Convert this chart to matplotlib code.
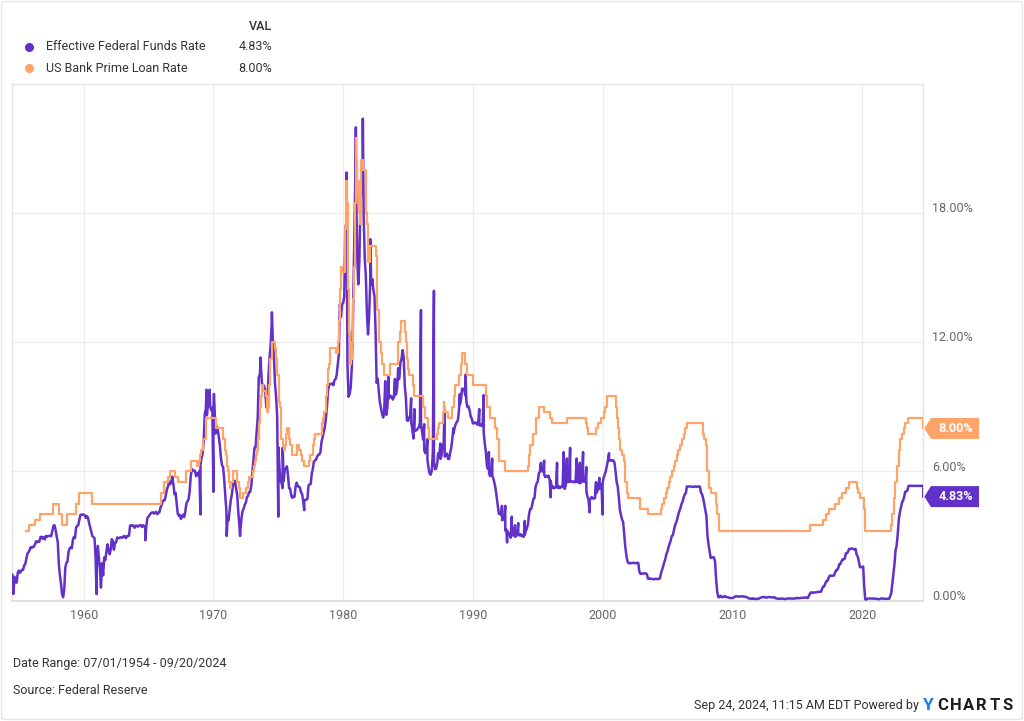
import numpy as np
import pandas as pd
import matplotlib
matplotlib.use("Agg")
import matplotlib.pyplot as plt
from matplotlib.patches import Polygon, FancyBboxPatch
from matplotlib.lines import Line2D

# ---------------- data ----------------
series_names = ["Effective Federal Funds Rate", "US Bank Prime Loan Rate"]
last_values = ["4.83%", "8.00%"]

# Effective Federal Funds Rate, monthly (first of month), %
ff_1950s = [1.20, 0.30, 1.10, 0.85, 0.83, 1.28,
            1.39, 1.29, 1.35, 1.43, 1.43, 1.64, 1.68, 1.96, 2.18, 2.24, 2.35, 2.48,
            2.45, 2.50, 2.50, 2.62, 2.75, 2.71, 2.75, 2.73, 2.95, 2.96, 2.88, 2.94,
            2.84, 3.00, 2.96, 3.00, 3.00, 3.00, 2.99, 3.24, 3.47, 3.50, 3.28, 2.98,
            2.72, 1.67, 1.20, 0.80, 0.30, 0.15, 0.50, 1.53, 1.76, 1.80, 2.27, 2.42,
            2.48, 2.43, 2.80, 2.96, 2.90, 3.39, 3.47, 3.50, 3.76, 3.98, 4.00, 3.99]
ff_1960s = [3.99, 3.97, 3.84, 3.92, 3.85, 3.60, 3.40, 3.20, 3.00, 2.95, 2.90, 2.00,
            1.45, 2.54, 2.02, 1.49, 0.60, 1.73, 1.17, 2.00, 1.88, 2.26, 2.61, 2.33,
            2.15, 2.37, 2.85, 2.78, 2.36, 2.68, 2.71, 2.93, 2.90, 2.90, 2.94, 2.93,
            2.92, 3.00, 2.98, 2.90, 3.00, 2.99, 3.02, 3.49, 3.48, 3.50, 3.48, 3.38,
            3.48, 3.48, 3.43, 3.47, 3.50, 3.50, 3.42, 3.50, 3.45, 3.36, 3.52, 3.85,
            3.90, 3.98, 4.04, 4.09, 4.10, 4.04, 4.09, 4.12, 4.01, 4.08, 4.10, 4.32,
            4.42, 4.60, 4.65, 4.67, 4.90, 5.17, 5.30, 5.53, 5.40, 5.53, 5.76, 5.40,
            4.94, 5.00, 4.53, 4.05, 3.94, 3.98, 3.79, 3.90, 3.99, 3.88, 4.13, 4.51,
            4.61, 4.71, 5.05, 5.76, 6.11, 6.07, 6.02, 6.03, 5.78, 5.91, 5.82, 6.02,
            6.30, 6.64, 6.79, 7.41, 8.67, 8.90, 8.61, 9.19, 9.15, 9.00, 8.85, 8.97]
ff_1970s = [8.98, 8.98, 7.76, 8.10, 7.95, 7.61, 7.21, 6.61, 6.29, 6.20, 5.60, 4.90,
            4.14, 3.72, 3.71, 4.16, 4.63, 4.91, 5.31, 5.57, 5.55, 5.20, 4.91, 4.14,
            3.50, 3.29, 3.83, 4.17, 4.27, 4.46, 4.55, 4.80, 4.87, 5.04, 5.06, 5.33,
            5.94, 6.58, 7.09, 7.12, 7.84, 8.49, 10.40, 10.50, 10.78, 10.01, 10.03, 9.95,
            9.65, 8.97, 9.35, 10.51, 11.31, 11.93, 12.92, 12.01, 11.34, 10.06, 9.45, 8.53,
            7.13, 6.24, 5.54, 5.49, 5.22, 5.55, 6.10, 6.14, 6.24, 5.82, 5.22, 5.20,
            4.87, 4.77, 4.84, 4.82, 5.29, 5.48, 5.31, 5.29, 5.25, 5.03, 4.95, 4.65,
            4.61, 4.68, 4.69, 4.73, 5.35, 5.39, 5.42, 5.90, 6.14, 6.47, 6.51, 6.56,
            6.70, 6.78, 6.79, 6.89, 7.36, 7.60, 7.81, 8.04, 8.45, 8.96, 9.76, 10.03,
            10.07, 10.06, 10.09, 10.01, 10.24, 10.29, 10.47, 10.94, 11.43, 13.77, 13.18, 13.78]
ff_1980s = [13.82, 14.13, 17.19, 17.61, 10.98, 9.47, 9.60, 9.90, 10.87, 12.81, 15.85, 18.90,
            19.08, 15.93, 14.70, 15.72, 18.52, 19.10, 19.04, 17.82, 15.87, 15.08, 13.31, 12.37,
            13.22, 14.78, 14.68, 14.94, 14.45, 14.15, 12.59, 10.12, 10.31, 9.71, 9.20, 8.95,
            8.68, 8.51, 8.77, 8.80, 8.63, 8.98, 9.37, 9.56, 9.45, 9.48, 9.34, 9.47,
            9.56, 9.59, 9.91, 10.29, 10.32, 11.06, 11.23, 11.64, 11.30, 9.99, 9.43, 8.38,
            8.35, 8.50, 8.58, 8.27, 7.97, 7.53, 7.88, 7.90, 7.92, 7.99, 8.05, 8.27,
            8.14, 7.86, 7.48, 6.99, 6.85, 6.92, 6.56, 6.17, 5.89, 5.85, 6.04, 6.91,
            6.43, 6.10, 6.13, 6.37, 6.85, 6.73, 6.58, 6.73, 7.22, 7.29, 6.69, 6.77,
            6.83, 6.58, 6.58, 6.87, 7.09, 7.51, 7.75, 8.01, 8.19, 8.30, 8.35, 8.76,
            9.12, 9.36, 9.85, 9.84, 9.81, 9.53, 9.24, 8.99, 9.02, 8.84, 8.55, 8.45]
ff_1990s = [8.23, 8.24, 8.28, 8.26, 8.18, 8.29, 8.15, 8.13, 8.20, 8.11, 7.81, 7.31,
            6.91, 6.25, 6.12, 5.91, 5.78, 5.90, 5.82, 5.66, 5.45, 5.21, 4.81, 4.43,
            4.03, 4.06, 3.98, 3.73, 3.82, 3.76, 3.25, 3.30, 3.22, 3.10, 3.09, 2.92,
            3.02, 3.03, 3.07, 2.96, 3.00, 3.04, 3.06, 3.03, 3.09, 2.99, 3.02, 2.96,
            3.05, 3.25, 3.34, 3.56, 4.01, 4.25, 4.26, 4.47, 4.73, 4.76, 5.29, 5.45,
            5.53, 5.92, 5.98, 6.05, 6.01, 6.00, 5.85, 5.74, 5.80, 5.76, 5.80, 5.60,
            5.56, 5.22, 5.31, 5.22, 5.24, 5.27, 5.40, 5.22, 5.30, 5.24, 5.31, 5.29,
            5.25, 5.19, 5.39, 5.51, 5.50, 5.56, 5.52, 5.54, 5.54, 5.50, 5.52, 5.50,
            5.56, 5.51, 5.49, 5.45, 5.49, 5.56, 5.54, 5.55, 5.51, 5.07, 4.83, 4.68,
            4.63, 4.76, 4.81, 4.74, 4.74, 4.76, 4.99, 5.07, 5.22, 5.20, 5.42, 5.30]
ff_2000s = [5.45, 5.73, 5.85, 6.02, 6.27, 6.53, 6.54, 6.50, 6.52, 6.51, 6.51, 6.40,
            5.98, 5.49, 5.31, 4.80, 4.21, 3.97, 3.77, 3.65, 3.07, 2.49, 2.09, 1.82,
            1.73, 1.74, 1.73, 1.75, 1.75, 1.75, 1.73, 1.74, 1.75, 1.75, 1.34, 1.24,
            1.24, 1.26, 1.25, 1.26, 1.26, 1.22, 1.01, 1.03, 1.01, 1.01, 1.00, 0.98,
            1.00, 1.01, 1.00, 1.00, 1.00, 1.03, 1.26, 1.43, 1.61, 1.76, 1.93, 2.16,
            2.28, 2.50, 2.63, 2.79, 3.00, 3.04, 3.26, 3.50, 3.62, 3.78, 4.00, 4.16,
            4.29, 4.49, 4.59, 4.79, 4.94, 4.99, 5.30, 5.30, 5.30, 5.30, 5.30, 5.28,
            5.28, 5.30, 5.30, 5.28, 5.30, 5.30, 5.30, 5.02, 4.94, 4.76, 4.49, 4.24,
            3.94, 2.98, 2.61, 2.28, 1.98, 2.00, 2.01, 2.00, 1.81, 0.97, 0.39, 0.16,
            0.15, 0.22, 0.18, 0.15, 0.18, 0.21, 0.16, 0.16, 0.15, 0.12, 0.12, 0.12]
ff_2010s = [0.11, 0.13, 0.16, 0.20, 0.20, 0.18, 0.18, 0.19, 0.19, 0.19, 0.19, 0.18,
            0.17, 0.16, 0.14, 0.10, 0.09, 0.09, 0.07, 0.10, 0.08, 0.07, 0.08, 0.07,
            0.08, 0.10, 0.13, 0.14, 0.16, 0.16, 0.16, 0.13, 0.14, 0.16, 0.16, 0.16,
            0.14, 0.15, 0.14, 0.15, 0.11, 0.09, 0.09, 0.08, 0.08, 0.09, 0.08, 0.09,
            0.07, 0.07, 0.08, 0.09, 0.09, 0.10, 0.09, 0.09, 0.09, 0.09, 0.09, 0.12,
            0.11, 0.11, 0.11, 0.12, 0.12, 0.13, 0.13, 0.14, 0.14, 0.12, 0.12, 0.24,
            0.34, 0.38, 0.36, 0.37, 0.37, 0.38, 0.39, 0.40, 0.40, 0.40, 0.41, 0.54,
            0.65, 0.66, 0.79, 0.90, 0.91, 1.04, 1.15, 1.16, 1.15, 1.15, 1.16, 1.30,
            1.41, 1.42, 1.51, 1.69, 1.70, 1.82, 1.91, 1.91, 1.95, 2.19, 2.20, 2.27,
            2.40, 2.40, 2.41, 2.42, 2.39, 2.38, 2.40, 2.13, 2.04, 1.83, 1.55, 1.55]
ff_2020s = [1.55, 1.58, 0.65, 0.05, 0.05, 0.08, 0.09, 0.10, 0.09, 0.09, 0.09, 0.09,
            0.09, 0.08, 0.07, 0.07, 0.06, 0.08, 0.10, 0.09, 0.08, 0.08, 0.08, 0.08,
            0.08, 0.08, 0.20, 0.33, 0.77, 1.21, 1.68, 2.33, 2.56, 3.08, 3.78, 4.10,
            4.33, 4.57, 4.65, 4.83, 5.06, 5.08, 5.12, 5.33, 5.33, 5.33, 5.33, 5.33,
            5.33, 5.33, 5.33, 5.33, 5.33, 5.33, 5.33, 5.33, 5.33]
ff_start = "1954-07-01"

# short-lived daily/weekly extremes visible in the chart
ff_spike_dates = ["1960-12-28", "1964-10-01", "1968-12-31", "1969-06-20", "1969-09-15",
                  "1969-12-31", "1970-01-15", "1971-01-10", "1972-01-20", "1973-08-20",
                  "1974-07-05", "1974-12-31", "1975-05-05", "1976-12-31", "1980-04-05",
                  "1980-12-24", "1981-07-08", "1982-02-05",
                  "1983-03-31", "1983-06-30", "1983-12-30", "1984-03-30", "1985-03-29",
                  "1985-06-28", "1985-12-31", "1986-03-31", "1986-06-30", "1986-12-31",
                  "1987-06-30", "1987-10-20", "1988-06-30", "1988-12-30", "1989-06-10",
                  "1990-06-29", "1990-10-31", "1991-03-28", "1991-06-28", "1992-03-31",
                  "1992-06-30", "1992-08-20", "1992-12-31", "1993-03-31", "1993-06-30",
                  "1993-12-31", "1995-03-31", "1995-06-30", "1995-12-31", "1996-06-28",
                  "1996-12-31", "1997-03-31", "1997-06-30", "1997-12-31", "1998-03-31",
                  "1998-06-30", "1998-09-30", "1998-12-31", "1999-06-30", "1999-09-30",
                  "1999-12-31", "2000-06-30", "2024-09-18", "2024-09-20"]
ff_spike_values = [0.30, 2.80, 4.00, 9.80, 9.80,
                   5.05, 9.60, 3.00, 3.00, 11.30,
                   13.40, 3.90, 7.10, 4.20, 19.90,
                   22.00, 22.40, 16.80,
                   10.20, 10.40, 10.30, 10.80, 9.40,
                   8.90, 13.50, 8.20, 7.50, 14.40,
                   7.30, 8.80, 8.00, 9.60, 10.50,
                   8.90, 9.55, 6.90, 6.60, 4.40,
                   4.40, 2.70, 3.90, 3.50, 3.60,
                   3.70, 6.40, 6.50, 4.80, 6.40,
                   6.90, 6.60, 7.10, 6.60, 6.40,
                   6.90, 6.20, 4.10, 5.50, 5.70,
                   4.00, 6.85, 5.33, 4.83]

# US Bank Prime Loan Rate: change dates and new rate, %
prime_dates = ["1955-08-04", "1955-10-14", "1956-04-13", "1956-08-21", "1957-08-06",
               "1958-01-22", "1958-04-21", "1958-09-11", "1959-05-18", "1959-09-01",
               "1960-08-23", "1965-12-06", "1966-03-10", "1966-06-29", "1966-08-16",
               "1967-01-26", "1967-03-27", "1967-11-20", "1968-04-19", "1968-09-25",
               "1968-12-02", "1968-12-18", "1969-01-07", "1969-03-17", "1969-06-09",
               "1970-03-25", "1970-09-21", "1970-11-12", "1970-11-23", "1970-12-22",
               "1971-01-06", "1971-01-18", "1971-02-16", "1971-03-11", "1971-03-19",
               "1971-04-23", "1971-05-11", "1971-07-06", "1971-10-20", "1971-11-04",
               "1971-12-31", "1972-01-24", "1972-04-05", "1972-06-26", "1972-08-29",
               "1972-10-04", "1973-01-15", "1973-02-26", "1973-03-22", "1973-04-18",
               "1973-05-07", "1973-06-08", "1973-06-25", "1973-07-05", "1973-08-13",
               "1973-08-28", "1973-09-18", "1973-10-24", "1974-01-29", "1974-02-19",
               "1974-02-25", "1974-03-22", "1974-04-05", "1974-05-06", "1974-06-26",
               "1974-07-05", "1974-10-07", "1974-10-21", "1974-11-14", "1974-12-09",
               "1975-01-09", "1975-02-03", "1975-02-18", "1975-03-10", "1975-03-24",
               "1975-05-20", "1975-06-09", "1975-07-18", "1975-08-12", "1975-09-15",
               "1975-10-27", "1975-11-05", "1975-12-02", "1976-01-12", "1976-01-21",
               "1976-06-01", "1976-06-07", "1976-08-02", "1976-10-04", "1976-11-01",
               "1976-12-13", "1977-05-13", "1977-05-31", "1977-08-22", "1977-09-16",
               "1977-10-07", "1977-10-24", "1978-05-05", "1978-05-26", "1978-06-16",
               "1978-06-30", "1978-08-31", "1978-09-15", "1978-10-13", "1978-11-01",
               "1978-11-06", "1978-11-24", "1978-12-26", "1979-06-19", "1979-07-27",
               "1979-08-16", "1979-08-28", "1979-09-07", "1979-09-14", "1979-09-28",
               "1979-10-09", "1979-10-23", "1979-11-09", "1979-12-07", "1980-02-19",
               "1980-03-07", "1980-03-19", "1980-04-02", "1980-05-01", "1980-05-09",
               "1980-05-23", "1980-06-06", "1980-07-07", "1980-07-25", "1980-08-22",
               "1980-09-08", "1980-09-26", "1980-10-17", "1980-11-06", "1980-11-21",
               "1980-12-02", "1980-12-19", "1981-01-02", "1981-02-03", "1981-03-10",
               "1981-04-24", "1981-05-05", "1981-05-19", "1981-07-08", "1981-09-22",
               "1981-10-05", "1981-10-13", "1981-11-03", "1981-11-20", "1981-12-01",
               "1982-02-02", "1982-07-20", "1982-07-29", "1982-08-02", "1982-08-16",
               "1982-08-23", "1982-10-07", "1982-10-14", "1982-11-22", "1983-01-11",
               "1983-02-28", "1983-08-08", "1984-03-19", "1984-04-05", "1984-05-08",
               "1984-06-25", "1984-09-28", "1984-10-17", "1984-10-29", "1984-11-28",
               "1984-12-20", "1985-01-15", "1985-05-20", "1985-06-18", "1986-03-07",
               "1986-04-21", "1986-07-11", "1986-08-26", "1987-04-01", "1987-05-01",
               "1987-05-15", "1987-09-04", "1987-10-07", "1987-10-22", "1987-11-05",
               "1988-02-02", "1988-05-11", "1988-07-14", "1988-08-11", "1988-11-28",
               "1989-02-10", "1989-02-24", "1989-06-05", "1989-07-31", "1990-01-08",
               "1991-01-02", "1991-02-04", "1991-05-01", "1991-09-13", "1991-11-06",
               "1991-12-23", "1992-07-02", "1994-03-24", "1994-04-19", "1994-05-17",
               "1994-08-16", "1994-11-15", "1995-02-01", "1995-07-07", "1995-12-20",
               "1996-02-01", "1997-03-26", "1998-09-30", "1998-10-16", "1998-11-18",
               "1999-07-01", "1999-08-25", "1999-11-17", "2000-02-03", "2000-03-22",
               "2000-05-17", "2001-01-04", "2001-02-01", "2001-03-21", "2001-04-19",
               "2001-05-16", "2001-06-28", "2001-08-22", "2001-09-18", "2001-10-03",
               "2001-11-07", "2001-12-12", "2002-11-07", "2003-06-27", "2004-07-01",
               "2004-08-11", "2004-09-22", "2004-11-11", "2004-12-15", "2005-02-03",
               "2005-03-23", "2005-05-04", "2005-07-01", "2005-08-10", "2005-09-21",
               "2005-11-02", "2005-12-14", "2006-02-01", "2006-03-29", "2006-05-11",
               "2006-06-30", "2007-09-19", "2007-11-01", "2007-12-12", "2008-01-22",
               "2008-01-31", "2008-03-19", "2008-05-01", "2008-10-09", "2008-10-30",
               "2008-12-17", "2015-12-17", "2016-12-15", "2017-03-16", "2017-06-15",
               "2017-12-14", "2018-03-22", "2018-06-14", "2018-09-27", "2018-12-20",
               "2019-08-01", "2019-09-19", "2019-10-31", "2020-03-04", "2020-03-16",
               "2022-03-17", "2022-05-05", "2022-06-16", "2022-07-28", "2022-09-22",
               "2022-11-03", "2022-12-15", "2023-02-02", "2023-03-23", "2023-05-04",
               "2023-07-27", "2024-09-19", "2024-09-20"]
prime_rates = [3.25, 3.50, 3.75, 4.00, 4.50,
               4.00, 3.50, 4.00, 4.50, 5.00,
               4.50, 5.00, 5.50, 5.75, 6.00,
               5.75, 5.50, 6.00, 6.50, 6.25,
               6.50, 6.75, 7.00, 7.50, 8.50,
               8.00, 7.50, 7.25, 7.00, 6.75,
               6.50, 6.25, 6.00, 5.75, 5.50,
               5.25, 5.50, 6.00, 5.75, 5.50,
               5.25, 4.75, 5.00, 5.25, 5.50,
               5.75, 6.00, 6.25, 6.50, 6.75,
               7.00, 7.50, 7.75, 8.25, 9.00,
               9.50, 10.00, 9.75, 9.50, 9.00,
               8.75, 9.00, 10.00, 11.25, 11.75,
               12.00, 11.75, 11.25, 10.75, 10.50,
               10.00, 9.25, 9.00, 8.00, 7.50,
               7.25, 7.00, 7.25, 7.75, 8.00,
               7.75, 7.50, 7.25, 7.00, 6.75,
               7.00, 7.25, 7.00, 6.75, 6.50,
               6.25, 6.50, 6.75, 7.00, 7.25,
               7.50, 7.75, 8.00, 8.25, 8.50,
               8.75, 9.25, 9.50, 10.00, 10.50,
               10.75, 11.00, 11.75, 11.50, 11.75,
               12.00, 12.25, 12.75, 13.00, 13.50,
               14.50, 15.00, 15.50, 15.25, 15.75,
               17.25, 18.50, 19.50, 18.50, 16.50,
               14.50, 12.50, 11.50, 11.00, 11.25,
               12.00, 13.00, 14.00, 15.50, 17.00,
               18.50, 21.50, 20.50, 19.50, 18.00,
               17.50, 19.00, 20.50, 20.00, 19.50,
               19.00, 18.00, 17.50, 16.50, 15.75,
               16.50, 16.00, 15.50, 15.00, 14.50,
               13.50, 13.00, 12.00, 11.50, 11.00,
               10.50, 11.00, 11.50, 12.00, 12.50,
               13.00, 12.75, 12.50, 12.00, 11.25,
               10.75, 10.50, 10.00, 9.50, 9.00,
               8.50, 8.00, 7.50, 7.75, 8.00,
               8.25, 8.75, 9.25, 9.00, 8.75,
               8.50, 9.00, 9.50, 10.00, 10.50,
               11.00, 11.50, 11.00, 10.50, 10.00,
               9.50, 9.00, 8.50, 8.00, 7.50,
               6.50, 6.00, 6.25, 6.75, 7.25,
               7.75, 8.50, 9.00, 8.75, 8.50,
               8.25, 8.50, 8.25, 8.00, 7.75,
               8.00, 8.25, 8.50, 8.75, 9.00,
               9.50, 9.00, 8.50, 8.00, 7.50,
               7.00, 6.75, 6.50, 6.00, 5.50,
               5.00, 4.75, 4.25, 4.00, 4.25,
               4.50, 4.75, 5.00, 5.25, 5.50,
               5.75, 6.00, 6.25, 6.50, 6.75,
               7.00, 7.25, 7.50, 7.75, 8.00,
               8.25, 7.75, 7.50, 7.25, 6.50,
               6.00, 5.25, 5.00, 4.50, 4.00,
               3.25, 3.50, 3.75, 4.00, 4.25,
               4.50, 4.75, 5.00, 5.25, 5.50,
               5.25, 5.00, 4.75, 4.25, 3.25,
               3.50, 4.00, 4.75, 5.50, 6.25,
               7.00, 7.50, 7.75, 8.00, 8.25,
               8.50, 8.00, 8.00]

y_ticks = [0, 6, 12, 18]
y_tick_labels = ["0.00%", "6.00%", "12.00%", "18.00%"]
x_tick_years = [1960, 1970, 1980, 1990, 2000, 2010, 2020]
date_start, date_end = "1954-07-01", "2024-09-20"

# ---------------- build series ----------------
ff_monthly = ff_1950s + ff_1960s + ff_1970s + ff_1980s + ff_1990s + ff_2000s + ff_2010s + ff_2020s
ff_m = pd.Series(ff_monthly, index=pd.date_range(ff_start, periods=len(ff_monthly), freq="MS"))
ff_s = pd.Series(ff_spike_values, index=pd.to_datetime(ff_spike_dates))
ff = pd.concat([ff_m, ff_s]).sort_index()
prime = pd.Series(prime_rates, index=pd.to_datetime(prime_dates))

# ---------------- figure ----------------
W, H = 1024, 721
plt.rcParams["font.family"] = ["Roboto", "DejaVu Sans"]
fig = plt.figure(figsize=(W / 100, H / 100), dpi=100)
fig.patch.set_facecolor("white")

L, R, T, B = 12.3, 923.3, 84.3, 600.5
ax = fig.add_axes([L / W, 1 - B / H, (R - L) / W, (B - T) / H])

PURPLE = "#6231c9"
ORANGE = "#ffa468"

ax.plot(ff.index, ff.values, color=PURPLE, lw=1.8, zorder=3, solid_joinstyle="round")
ax.plot(prime.index, prime.values, color=ORANGE, lw=1.6, zorder=4, drawstyle="steps-post")

ax.set_xlim(pd.Timestamp(date_start), pd.Timestamp(date_end))
ax.set_ylim(0, 24)
ax.set_yticks(y_ticks)
ax.set_yticklabels([])
ax.set_xticks([pd.Timestamp(f"{y}-01-01") for y in x_tick_years])
ax.set_xticklabels([str(y) for y in x_tick_years])
ax.tick_params(axis="both", length=0)
ax.tick_params(axis="x", pad=6, labelsize=9, labelcolor="#666666")
ax.grid(True, color="#ececec", lw=0.8, zorder=0)
for side, sp in ax.spines.items():
    sp.set_color("#e2e2e2")
    sp.set_linewidth(0.9)
ax.spines["bottom"].set_color("#dcdcdc")
ax.spines["bottom"].set_linewidth(1.3)

# right-side y labels sitting just above their gridlines
for v, lab in zip(y_ticks, y_tick_labels):
    ax.annotate(lab, xy=(1, v), xycoords=("axes fraction", "data"),
                xytext=(8.7 * 0.72, 3.2), textcoords="offset points",
                ha="left", va="center", fontsize=9, color="#666666")

# value tags at the right end
fig.canvas.draw()
for val, txt, col in [(ff.iloc[-1], last_values[0], PURPLE), (prime.iloc[-1], last_values[1], ORANGE)]:
    yc = ax.transData.transform((0, val))[1]
    x0, x1, x2, hh = 924.3, 931.0, 979.0, 10.5
    pts = [(x0, yc), (x1, yc + hh), (x2, yc + hh), (x2, yc - hh), (x1, yc - hh)]
    pts = [(px / W, py / H) for px, py in pts]
    fig.add_artist(Polygon(pts, closed=True, transform=fig.transFigure, fc=col, ec="none"))
    fig.text(955.5 / W, yc / H, txt, ha="center", va="center", fontsize=9,
             fontweight="bold", color="white")

# legend
fig.text(272 / W, 1 - 27 / H, "VAL", ha="right", va="center", fontsize=9, color="#333333",
         fontweight="medium")
for i, (name, val, col) in enumerate(zip(series_names, last_values, [PURPLE, ORANGE])):
    yy = 1 - (47 + 21 * i) / H
    fig.add_artist(Line2D([29 / W], [yy], marker="o", markersize=5.5, color=col,
                          transform=fig.transFigure))
    fig.text(46 / W, yy, name, ha="left", va="center", fontsize=9, color="#333333")
    fig.text(272 / W, yy, val, ha="right", va="center", fontsize=9, color="#333333")

# footer
fig.text(13 / W, 1 - 663 / H, "Date Range: 07/01/1954 - 09/20/2024", ha="left", va="center",
         fontsize=9, color="#333333")
fig.text(13 / W, 1 - 691 / H, "Source: Federal Reserve", ha="left", va="center",
         fontsize=9, color="#333333")
fig.text(919 / W, 1 - 705 / H, "Sep 24, 2024, 11:15 AM EDT Powered by", ha="right",
         va="center", fontsize=9, color="#333333")
fig.text(923 / W, 1 - 705 / H, "Y", ha="left", va="center", fontsize=12.5,
         fontweight="bold", color="#1f7de6")
for i, ch in enumerate("CHARTS"):
    fig.text((943 + i * 12.9) / W, 1 - 705 / H, ch, ha="center", va="center",
             fontsize=12, fontweight="bold", color="#1d1d1d")

# outer frame
fig.add_artist(FancyBboxPatch((1.5 / W, 1.5 / H), 1 - 3 / W, 1 - 3 / H,
                              boxstyle="round,pad=0,rounding_size=0.004",
                              transform=fig.transFigure, fill=False, ec="#e6e6e6", lw=1))

fig.savefig("out.png", dpi=100, facecolor="white")
